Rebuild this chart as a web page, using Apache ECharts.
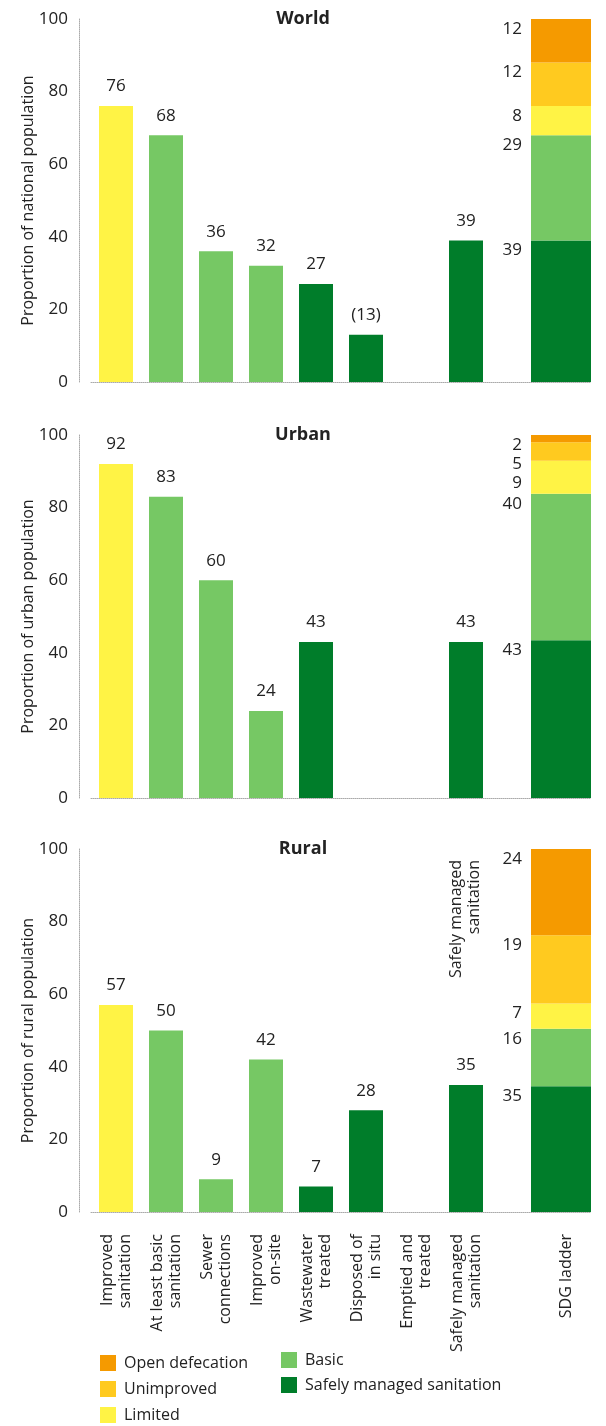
<!DOCTYPE html>
<html><head><meta charset="utf-8">
<script src="https://cdn.jsdelivr.net/npm/echarts@6/dist/echarts.min.js"></script>
<style>html,body{margin:0;padding:0;background:#fff}#c{width:606px;height:1426px}</style>
</head><body><div id="c"></div>
<script>
// ---- data ----
const categories = ['Improved\nsanitation', 'At least basic\nsanitation', 'Sewer\nconnections', 'Improved\non-site', 'Wastewater\ntreated', 'Disposed of\nin situ', 'Emptied and\ntreated', 'Safely managed\nsanitation', '', 'SDG ladder'];
const categoryLevel = ['Limited', 'Basic', 'Basic', 'Basic', 'Safely managed sanitation', 'Safely managed sanitation', 'Safely managed sanitation', 'Safely managed sanitation'];
const panelTitles = ['World', 'Urban', 'Rural'];
const axisNames = ['Proportion of national population', 'Proportion of urban population', 'Proportion of rural population'];
const worldValues = [76, 68, 36, 32, 27, 13, null, 39];
const urbanValues = [92, 83, 60, 24, 43, null, null, 43];
const ruralValues = [57, 50, 9, 42, 7, 28, null, 35];
const worldEstimated = [false, false, false, false, false, true, false, false];
const urbanEstimated = [false, false, false, false, false, false, false, false];
const ruralEstimated = [false, false, false, false, false, false, false, false];
const ladderLevels = ['Safely managed sanitation', 'Basic', 'Limited', 'Unimproved', 'Open defecation'];
const worldLadder = [39, 29, 8, 12, 12];
const urbanLadder = [43, 40, 9, 5, 2];
const ruralLadder = [35, 16, 7, 19, 24];
const yTickInterval = 20;
const yMax = 100;
const annotationLabel = 'Safely managed\nsanitation';

// ---- style ----
const colors = {
  'Open defecation': '#F59A00',
  'Unimproved': '#FFCA1F',
  'Limited': '#FFF345',
  'Basic': '#76C864',
  'Safely managed sanitation': '#007D2A'
};
const FONT = '"Open Sans", "Noto Sans", sans-serif';
const TXT = '#222';
const AXC = '#aaa';
const tops = [19, 435, 849];
const H = 363;
const LABEL_DOWN = 10;   // ladder label below segment top
const LABEL_MINGAP = 19; // min vertical spacing between ladder labels

const panelValues = [worldValues, urbanValues, ruralValues];
const panelEstimated = [worldEstimated, urbanEstimated, ruralEstimated];
const panelLadders = [worldLadder, urbanLadder, ruralLadder];

const grid = [], xAxis = [], yAxis = [], series = [], title = [];
for (let p = 0; p < 3; p++) {
  grid.push({ left: 91, width: 500, top: tops[p], height: H });
  title.push({ text: panelTitles[p], left: 'center', top: tops[p] - 14, textStyle: { fontFamily: FONT, fontSize: 18, fontWeight: 'bold', color: TXT } });
  xAxis.push({
    type: 'category', gridIndex: p, data: categories,
    axisLine: { show: true, lineStyle: { color: AXC, type: 'dotted', width: 1 } },
    axisTick: { show: false },
    axisLabel: { show: p === 2, interval: 0, rotate: 90, margin: 22, fontFamily: FONT, fontSize: 16, lineHeight: 18, color: TXT }
  });
  xAxis.push({ type: 'category', gridIndex: p, data: categories, show: false });
  yAxis.push({
    type: 'value', gridIndex: p, min: 0, max: yMax, interval: yTickInterval, offset: 12,
    name: axisNames[p], nameLocation: 'middle', nameGap: 43, nameMoveOverlap: false,
    nameTextStyle: { fontFamily: FONT, fontSize: 16, color: TXT },
    axisLine: { show: true, lineStyle: { color: AXC, type: 'dotted', width: 1 } },
    axisTick: { show: false }, splitLine: { show: false },
    axisLabel: { margin: 11, fontFamily: FONT, fontSize: 17, color: TXT }
  });
  const ladder = panelLadders[p];
  const ladderTotal = ladder.reduce((a, b) => a + b, 0);
  yAxis.push({ type: 'value', gridIndex: p, min: 0, max: ladderTotal, show: false });

  const vals = panelValues[p], est = panelEstimated[p];
  series.push({
    type: 'bar', name: panelTitles[p], xAxisIndex: 2 * p, yAxisIndex: 2 * p, barWidth: 34,
    data: vals.map((v, i) => ({ value: v, itemStyle: { color: colors[categoryLevel[i]] } })),
    label: {
      show: true, position: 'top', distance: 11, fontFamily: FONT, fontSize: 17, color: TXT,
      formatter: (prm) => prm.value == null ? '' : (est[prm.dataIndex] ? '(' + prm.value + ')' : String(prm.value))
    },
    silent: true, animation: false
  });

  // label offsets from the top of each ladder segment, spaced so they don't overlap
  const pxPerUnit = H / ladderTotal;
  const segTop = [];
  let cum = 0;
  ladder.forEach((v) => { cum += v; segTop.push((ladderTotal - cum) * pxPerUnit); });
  const labelY = new Array(ladder.length);
  let prev = -Infinity;
  for (let k = ladder.length - 1; k >= 0; k--) {
    labelY[k] = Math.max(segTop[k] + LABEL_DOWN, prev + LABEL_MINGAP);
    prev = labelY[k];
  }

  ladderLevels.forEach((lvl, k) => {
    const d = categories.map((c, i) => i === categories.length - 1 ? ladder[k] : null);
    series.push({
      type: 'bar', name: lvl, stack: 'ladder' + p, xAxisIndex: 2 * p + 1, yAxisIndex: 2 * p + 1, barWidth: 70,
      itemStyle: { color: colors[lvl] }, data: d,
      label: { show: true, position: [-9, labelY[k] - segTop[k]], align: 'right', verticalAlign: 'middle', fontFamily: FONT, fontSize: 17, color: TXT },
      silent: true, animation: false
    });
  });
}

const legendText = { fontFamily: FONT, fontSize: 16, color: TXT, lineHeight: 16, padding: [0, 0, 0, 3] };
const legend = [
  { orient: 'vertical', left: 100, top: 1355, itemWidth: 16, itemHeight: 16, itemGap: 10, icon: 'rect', padding: 0,
    data: ['Open defecation', 'Unimproved', 'Limited'], textStyle: legendText, selectedMode: false },
  { orient: 'vertical', left: 281, top: 1352, itemWidth: 16, itemHeight: 16, itemGap: 9, icon: 'rect', padding: 0,
    data: ['Basic', 'Safely managed sanitation'], textStyle: legendText, selectedMode: false }
];

const chart = echarts.init(document.getElementById('c'), null, { renderer: 'canvas' });
chart.setOption({ animation: false, backgroundColor: '#fff', title, grid, xAxis, yAxis, series, legend });

// annotation above the "Safely managed sanitation" bar in the Rural panel
const ax = chart.convertToPixel({ xAxisIndex: 4 }, categories[7]);
const ay = chart.convertToPixel({ yAxisIndex: 4 }, yMax);
chart.setOption({
  graphic: [{
    type: 'text', x: ax - 1, y: ay + 11, rotation: Math.PI / 2,
    style: { text: annotationLabel, align: 'right', verticalAlign: 'middle', fontFamily: FONT, fontSize: 16, lineHeight: 18, fill: TXT }
  }]
});
</script></body></html>
